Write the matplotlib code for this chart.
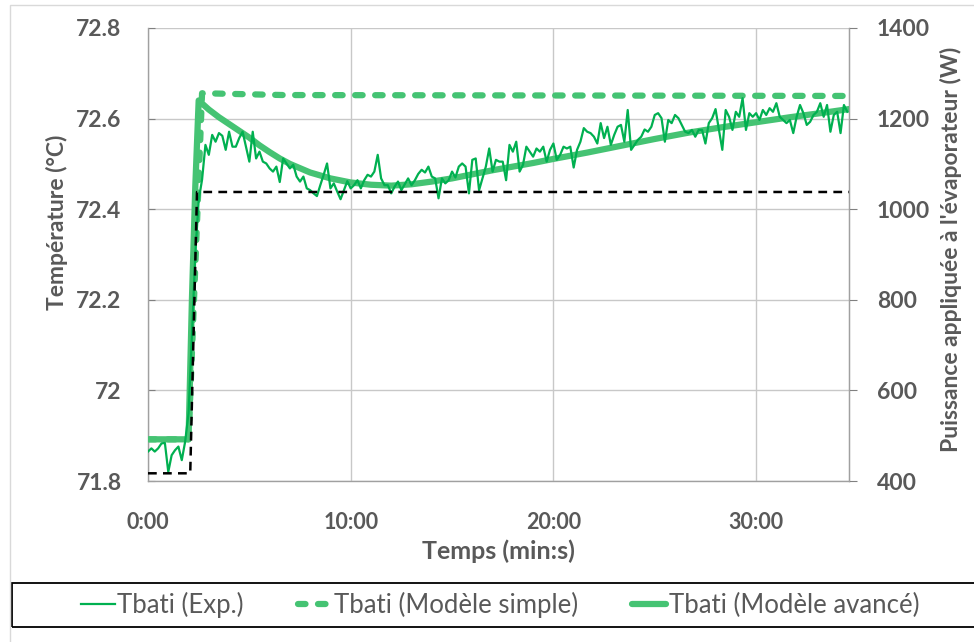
import numpy as np
import matplotlib
matplotlib.use("Agg")
import matplotlib.pyplot as plt
from matplotlib.lines import Line2D
from matplotlib.patches import Rectangle
from matplotlib.ticker import FuncFormatter, MultipleLocator

# Experimental temperature (one reading every 10 s)
exp_temp = [
    71.865, 71.872, 71.865, 71.872, 71.883, 71.884, 71.820, 71.857, 71.868, 71.876,
    71.846, 71.887, 71.950, 72.120, 72.300, 72.420, 72.465,
    72.542, 72.520, 72.564, 72.549, 72.568, 72.562, 72.531, 72.571, 72.538, 72.538,
    72.557, 72.571, 72.538, 72.505, 72.571, 72.512, 72.527, 72.505, 72.501, 72.490,
    72.483, 72.494,
    72.460, 72.512, 72.501, 72.490, 72.498, 72.472, 72.461, 72.472, 72.446, 72.442,
    72.435, 72.429, 72.453, 72.476, 72.501, 72.446, 72.457, 72.439, 72.422, 72.442,
    72.462, 72.446, 72.453, 72.464, 72.446, 72.464, 72.476, 72.472, 72.483, 72.520,
    72.468, 72.453, 72.453, 72.435, 72.450, 72.461, 72.442, 72.455, 72.468, 72.453,
    72.464, 72.478,
    72.487, 72.481, 72.494, 72.472, 72.468, 72.424, 72.468, 72.457, 72.464, 72.483,
    72.470, 72.494, 72.501, 72.494, 72.435, 72.509, 72.512, 72.442, 72.468, 72.494,
    72.534, 72.483, 72.509, 72.505, 72.505, 72.464, 72.542, 72.527, 72.549, 72.483,
    72.498, 72.538, 72.527, 72.516, 72.534, 72.527, 72.538, 72.505, 72.531, 72.545,
    72.509, 72.520, 72.538, 72.534, 72.538, 72.492, 72.531, 72.549, 72.579, 72.571,
    72.568, 72.560, 72.545, 72.590, 72.557, 72.582, 72.542, 72.564, 72.582, 72.586,
    72.549, 72.619, 72.531, 72.542, 72.553, 72.560, 72.576, 72.571, 72.582, 72.608,
    72.612, 72.601, 72.549, 72.597, 72.590, 72.608, 72.601, 72.586, 72.571, 72.568,
    72.575, 72.560, 72.575,
    72.575, 72.545, 72.590, 72.601, 72.621, 72.575, 72.531, 72.619, 72.604, 72.575,
    72.615, 72.604, 72.645, 72.575, 72.612, 72.604, 72.612, 72.597, 72.619, 72.608,
    72.623, 72.615, 72.634, 72.604, 72.597, 72.590, 72.597, 72.568, 72.604, 72.630,
    72.612, 72.586, 72.593, 72.608, 72.615, 72.634, 72.604, 72.630, 72.571, 72.608,
    72.615, 72.568, 72.630, 72.615,
]
exp_time = np.arange(len(exp_temp)) * 10

# Simple model
simple_time = [0, 120, 160, 400, 2075]
simple_temp = [71.892, 71.892, 72.656, 72.652, 72.650]

# Advanced model
adv_time = [0, 120, 130, 140, 150, 180, 210, 240, 270, 300, 330, 360, 390, 420, 480,
            540, 600, 660, 720, 780, 840, 900, 960, 1020, 1080, 1140, 1200, 1300,
            1400, 1500, 1600, 1700, 1800, 1900, 2000, 2075]
adv_temp = [71.892, 71.892, 72.200, 72.450, 72.640, 72.620, 72.603, 72.588, 72.573,
            72.558, 72.541, 72.526, 72.512, 72.500, 72.481, 72.468, 72.459, 72.454,
            72.452, 72.455, 72.461, 72.468, 72.477, 72.486, 72.494, 72.502, 72.511,
            72.525, 72.540, 72.555, 72.569, 72.581, 72.592, 72.603, 72.613, 72.621]

# Power applied to the evaporator (right axis)
power_time = [0, 125, 145, 2075]
power_w = [417, 417, 1038, 1038]

GRAY = "#595959"
EXP_GREEN = "#00B050"
MODEL_GREEN = "#45C373"

plt.rcParams['font.family'] = ['Lato', 'DejaVu Sans']

fig = plt.figure(figsize=(9.74, 6.42), dpi=100)
ax = fig.add_axes([148 / 974, 1 - 481 / 642, (849 - 148) / 974, (481 - 28) / 642])

ax.plot(simple_time, simple_temp, color=MODEL_GREEN, lw=4.5, dashes=(1.2, 2.0),
        dash_capstyle="round", zorder=2)
ax.plot(adv_time, adv_temp, color=MODEL_GREEN, lw=4.5, solid_capstyle="round", zorder=3)
ax.plot(exp_time, exp_temp, color=EXP_GREEN, lw=1.6, zorder=4)

ax.set_xlim(0, 2075)
ax.set_ylim(71.8, 72.8)
ax.set_yticks([71.8, 72.0, 72.2, 72.4, 72.6, 72.8])
ax.set_yticklabels(["71.8", "72", "72.2", "72.4", "72.6", "72.8"])
ax.xaxis.set_major_locator(MultipleLocator(600))
ax.xaxis.set_major_formatter(FuncFormatter(lambda s, p: "%d:%02d" % (s // 60, s % 60)))
ax.grid(True, color="#C8C8C8", lw=1.0)
ax.set_axisbelow(True)

ax.spines["top"].set_visible(False)
for side in ["left", "bottom", "right"]:
    ax.spines[side].set_color("#A0A0A0")
    ax.spines[side].set_linewidth(1.0)

ax.tick_params(axis="y", direction="in", length=5, color="#808080", pad=19,
               labelsize=16.5, labelcolor=GRAY)
ax.tick_params(axis="x", length=0, pad=22, labelsize=15.5, labelcolor=GRAY)
for lab in ax.get_xticklabels() + ax.get_yticklabels():
    lab.set_fontweight("bold")

# Right axis for the power
ax2 = ax.twinx()
ax2.plot(power_time, power_w, color="black", lw=1.8, dashes=(3.5, 2.5))
ax2.set_ylim(400, 1400)
ax2.set_yticks([400, 600, 800, 1000, 1200, 1400])
ax2.tick_params(axis="y", direction="out", length=6, color="#808080", pad=14,
                labelsize=16.5, labelcolor=GRAY)
for lab in ax2.get_yticklabels():
    lab.set_fontweight("bold")
for side in ["top", "left", "bottom"]:
    ax2.spines[side].set_visible(False)
ax2.spines["right"].set_color("#A0A0A0")

# Axis titles
fig.text(57 / 974, 1 - 222 / 642, "Température (°C)", rotation=90, ha="center",
         va="center", fontsize=16.5, fontweight="bold", color=GRAY)
fig.text(951 / 974, 1 - 249 / 642, "Puissance appliquée à l'évaporateur (W)",
         rotation=90, ha="center", va="center", fontsize=16.5, fontweight="bold", color=GRAY)
fig.text(498 / 974, 1 - 551 / 642, "Temps (min:s)", ha="center", va="center",
         fontsize=18, fontweight="bold", color=GRAY)

# Legend
handles = [
    Line2D([], [], color=EXP_GREEN, lw=1.6),
    Line2D([], [], color=MODEL_GREEN, lw=4.5, dashes=(1.2, 2.0), dash_capstyle="round"),
    Line2D([], [], color=MODEL_GREEN, lw=4.5, solid_capstyle="round"),
]
labels = ["Tbati (Exp.)", "Tbati (Modèle simple)", "Tbati (Modèle avancé)"]
leg = fig.legend(handles, labels, loc="center", bbox_to_anchor=(500 / 974, 1 - 605 / 642),
                 ncol=3, frameon=False, fontsize=18.5, handlelength=1.32,
                 handletextpad=0.1, columnspacing=2.1)
for txt in leg.get_texts():
    txt.set_color(GRAY)

# Box around the legend and chart border
fig.add_artist(Rectangle((12 / 974, 15 / 642), 990 / 974, 44 / 642, transform=fig.transFigure,
                         facecolor="none", edgecolor="black", lw=1.3))
fig.add_artist(Rectangle((10 / 974, -0.1), 1.2, 1.1 - 5 / 642, transform=fig.transFigure,
                         facecolor="none", edgecolor="#D9D9D9", lw=1.0))

fig.savefig("out.png", dpi=100)
